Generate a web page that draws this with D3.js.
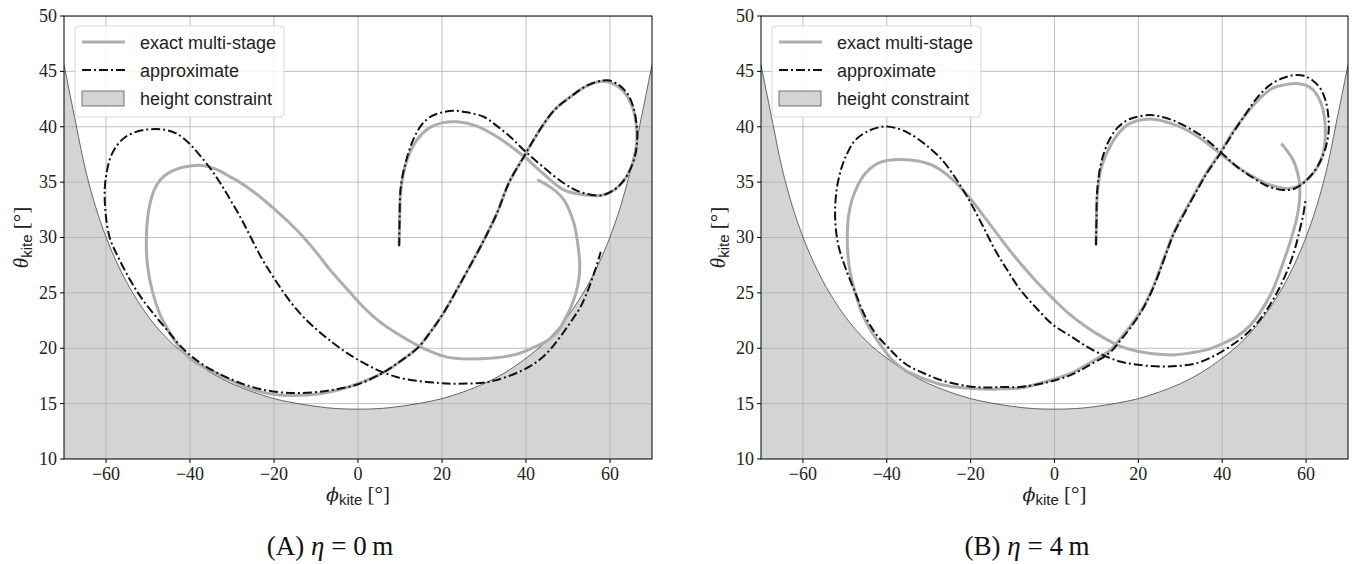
<!doctype html>
<html>
<head>
<meta charset="utf8">
<script src="https://d3js.org/d3.v7.min.js"></script>
<style>
  body { margin: 0; background: #fff; }
  .tick-label { font-family: "Liberation Serif", serif; font-size: 18px; fill: #222; }
  .legend-text { font-family: "Liberation Sans", sans-serif; font-size: 18px; fill: #222; }
  .grid line { stroke: #b0b0b0; stroke-width: 0.8; }
</style>
</head>
<body>
<svg width="1354" height="564"></svg>
<script>
// axis ticks
var phiTicks = [-60, -40, -20, 0, 20, 40, 60];
var thetaTicks = [10, 15, 20, 25, 30, 35, 40, 45, 50];

// height constraint boundary
var boundaryPhi   = [-70, -67.5, -65, -62.5, -60, -57.5, -55, -52.5, -50, -45, -40, -35, -30, -25, -20, -15, -10, -5, 0,
                     5, 10, 15, 20, 25, 30, 35, 40, 45, 50, 52.5, 55, 57.5, 60, 62.5, 65, 67.5, 70];
var boundaryTheta = [45.6, 40.9, 36.3, 32.8, 30.05, 27.8, 25.9, 24.3, 22.9, 20.7, 19.1, 17.8, 16.8, 16.05, 15.45, 15.05, 14.75, 14.55, 14.5,
                     14.55, 14.75, 15.05, 15.45, 16.05, 16.8, 17.8, 19.1, 20.7, 22.9, 24.3, 25.9, 27.8, 30.05, 32.8, 36.3, 40.9, 45.6];

// (A) eta = 0 m
var exactA_phi = [9.8, 9.9, 10.2, 11.5, 14, 17, 20, 23.6, 28, 33.1, 36.5, 39.9, 44, 49, 53, 57.8, 61, 63.4, 65, 66, 66.4, 66.2, 65.5, 64.2, 62, 58.6,
  54.5, 50.6, 47, 44.3, 41.8, 39.5, 36, 33.1, 30.3, 27.5, 24, 20.4, 17.3, 14.4, 10, 6, 0, -6.7, -14, -20.3, -26, -31.4, -36, -39.4, -42.5,
  -45, -47.3, -49, -50.1, -50.4, -50.1, -49.3, -48, -46, -43, -40, -37, -34, -30.5, -26.6, -20, -13.9, -10, -6.7, -2.5, 1.2, 5, 9.2, 14.8, 21.2,
  29.1, 37.1, 42, 45.1, 47.5, 49.1, 51, 52.3, 52.8, 52.6, 51.4, 49, 46, 42.7];
var exactA_theta = [29.3, 31.5, 34.3, 36.8, 38.8, 39.9, 40.35, 40.45, 40.1, 39.1, 38.2, 37.2, 35.8, 34.3, 33.9, 33.8, 34.3, 35.2, 36.3, 37.6, 39, 40.3, 41.6, 42.7, 43.6, 44.1,
  43.7, 42.7, 41.6, 40.3, 38.8, 37.3, 35, 32.2, 30, 28, 25.6, 23.2, 21.5, 20.1, 18.8, 17.8, 16.8, 16.05, 15.75, 15.85, 16.4, 17.3, 18.2, 18.9, 20.1,
  21.5, 23.2, 25.2, 27.4, 29.8, 31.7, 33.4, 34.7, 35.6, 36.2, 36.45, 36.5, 36.2, 35.5, 34.6, 32.6, 30.4, 28.7, 27.1, 25.3, 23.75, 22.45, 21.35, 20.14, 19.2,
  19.05, 19.4, 20.1, 20.7, 21.5, 22.5, 24, 25.6, 27.2, 28.6, 31.3, 33.4, 34.5, 35.2];

var approxA_phi = [9.8, 9.9, 10.2, 11.5, 13.1, 15, 17.2, 20, 22.7, 26, 29.9, 33, 36.5, 39.9, 44, 49, 53, 57.8, 61, 63.4, 65, 66.1, 66.5, 66.3, 65.6, 64.3, 62, 59.4,
  55, 50.6, 47, 44.3, 41.8, 39.5, 36, 33.1, 30.3, 27.5, 24, 20.4, 17.3, 14.4, 10, 6, 0, -6.7, -14, -20.3, -26, -31.4, -36, -39.4, -42.5,
  -44.9, -48, -51.3, -54, -56.8, -59.2, -60.3, -60, -58.5, -55.3, -49.7, -43.3, -36.1, -29, -21.8, -13.9, -6, 1.2, 9.2, 19.6, 23.6, 31.5,
  39.4, 44, 47.5, 50.5, 53, 55.5, 57.8];
var approxA_theta = [29.2, 31.5, 34.6, 37, 38.8, 40.1, 40.9, 41.3, 41.45, 41.3, 40.9, 40.1, 39, 37.75, 36.4, 34.9, 34.1, 33.8, 34.3, 35.2, 36.3, 37.6, 39, 40.3, 41.7, 42.9, 43.8, 44.2,
  43.8, 42.7, 41.6, 40.3, 38.8, 37.3, 35, 32.2, 30, 28, 25.6, 23.2, 21.5, 20.1, 18.8, 17.8, 16.75, 16.2, 15.95, 16.1, 16.6, 17.4, 18.3, 19.2, 20.3,
  21.4, 22.8, 24.4, 26, 28, 30.1, 33.4, 35.5, 37.6, 39.1, 39.77, 39.4, 36.7, 32.5, 27.4, 23.2, 20.5, 18.7, 17.4, 16.85, 16.8, 17.0,
  18.05, 19.2, 20.7, 22.3, 23.75, 26, 28.7];

// (B) eta = 4 m
var exactB_phi = [9.9, 10.0, 10.3, 11.3, 13.2, 15.5, 18, 22.7, 26, 29.9, 35, 39.4, 43.5, 47.3, 51, 54.5, 57, 59.2, 61.5, 63.2, 64.3, 64.6, 64.4, 63.6, 62.4, 60.8,
  57.7, 55, 52.1, 48.8, 45.8, 42.5, 39.4, 36.5, 33.9, 31, 28.4, 26, 23.6, 21, 18, 15.5, 13.2, 8, 3.7, -2, -8.2, -12.6, -15.8, -21, -26.9, -31.5,
  -35.6, -38.6, -41.1, -43.8, -45.9, -47.5, -48.7, -49.3, -49.4, -49.1, -48.3, -46.8, -45.1, -43, -41.1, -36.8, -32.5, -28.5, -24.5, -20.5,
  -16, -11, -8.2, -4, 0, 3.5, 7.7, 11.5, 15.6, 19.5, 23.5, 28.3, 32, 36.2, 40, 43.4, 46.5, 48.9, 52, 54.5, 56.3, 57.7, 58.4, 58.5, 58, 56.9, 54.1];
var exactB_theta = [29.3, 31.5, 34.3, 36.5, 38.2, 39.5, 40.3, 40.7, 40.5, 40, 38.9, 37.6, 36.4, 35.5, 34.8, 34.45, 34.5, 34.9, 35.7, 36.7, 38, 39.4, 40.8, 42.1, 43, 43.6,
  43.9, 43.8, 43.5, 42.5, 41.2, 39.5, 37.6, 36, 34.3, 32.3, 30.4, 28, 25.6, 23.6, 21.95, 20.8, 19.8, 18.6, 17.7, 17, 16.4, 16.35, 16.3, 16.4, 16.7, 17.3,
  18.0, 18.9, 20.1, 21.6, 23.15, 25, 26.8, 28.6, 30.4, 32, 33.4, 34.8, 35.8, 36.5, 36.85, 37.05, 36.9, 36.4, 35.3, 33.7,
  31.5, 29.0, 27.7, 25.9, 24.35, 23.1, 21.9, 21.0, 20.2, 19.75, 19.5, 19.4, 19.55, 19.85, 20.4, 21.05, 22, 23.15, 25.2, 27.7, 29.7, 31.6, 33.2, 34.6, 35.8, 37, 38.5];

var approxB_phi = [9.9, 10.0, 10.2, 11.1, 12.8, 15, 18, 22.7, 26, 29.9, 35, 39.4, 43.5, 47.3, 51, 54.5, 57.2, 59.6, 62, 63.9, 65, 65.4, 65.3, 64.7, 63.5, 61.5, 59.5,
  57.3, 54.5, 51.5, 48.5, 45.5, 42.5, 39.4, 36.5, 33.9, 31, 28.4, 26, 23.6, 21, 18, 15.5, 13.2, 8, 3.7, -2, -8.2, -12.6, -16.5, -21, -26.9,
  -31.5, -35.6, -39.5, -42.7, -45.3, -47.5, -49.8, -51.5, -52.2, -52.3, -51.8, -50.7, -49.3, -47.5, -44.5, -41.1, -38, -34.7, -30.8, -26.8,
  -23.5, -20.4, -17.3, -14.2, -11, -8.2, -4.5, -0.3, 3.8, 7.7, 11.5, 15.6, 20, 25.1, 29.5, 33.9, 38, 41.8, 45.5, 48.9, 52.3, 55.3, 57.2, 58.5, 59.4, 59.9];
var approxB_theta = [29.3, 31.5, 34.3, 36.7, 38.6, 39.9, 40.7, 41.05, 40.85, 40.3, 39.2, 37.8, 36.4, 35.4, 34.6, 34.3, 34.4, 35, 36, 37.3, 38.6, 39.7, 41, 42.3, 43.4, 44.2, 44.6,
  44.67, 44.4, 43.8, 42.7, 41.1, 39.4, 37.5, 35.9, 34.2, 32.2, 30.3, 27.9, 25.5, 23.5, 21.8, 20.6, 19.6, 18.4, 17.55, 16.9, 16.5, 16.5, 16.45, 16.6, 17.1,
  17.8, 18.6, 20, 21.35, 23, 25, 27.2, 29.2, 31, 32.8, 34.7, 36.4, 37.7, 38.8, 39.6, 40, 39.9, 39.4, 38.4, 37,
  35.3, 33.4, 31.2, 28.9, 26.9, 25.3, 23.7, 22.1, 21.1, 20.15, 19.4, 18.8, 18.5, 18.35, 18.4, 18.65, 19.3, 20.15, 21.2, 22.55, 24.5, 26.8, 28.8, 30.7, 32.2, 33.5];

var legendLabels = ["exact multi-stage", "approximate", "height constraint"];

var svg = d3.select("svg");
svg.append("rect").attr("width", 1354).attr("height", 564).attr("fill", "#fff");

var margin = { top: 16, bottom: 459 };

function pairs(a, b) { return a.map(function(v, i) { return [v, b[i]]; }); }

function drawPanel(left, right, caption, capX, exactPhi, exactTheta, approxPhi, approxTheta, id) {
    var x = d3.scaleLinear().domain([-70, 70]).range([left, right]);
    var y = d3.scaleLinear().domain([10, 50]).range([margin.bottom, margin.top]);

    var g = svg.append("g");

    g.append("clipPath").attr("id", "clip" + id)
     .append("rect")
     .attr("x", left).attr("y", margin.top)
     .attr("width", right - left).attr("height", margin.bottom - margin.top);

    var plot = g.append("g").attr("clip-path", "url(#clip" + id + ")");

    var bnd = pairs(boundaryPhi, boundaryTheta);

    // shaded constraint area
    plot.append("path")
        .datum(bnd)
        .attr("fill", "#d3d4d6")
        .attr("d", d3.area()
            .curve(d3.curveMonotoneX)
            .x(function(d) { return x(d[0]); })
            .y0(y(10))
            .y1(function(d) { return y(d[1]); }));

    // grid
    var grid = plot.append("g").attr("class", "grid");
    grid.selectAll(".gx").data(phiTicks).enter().append("line")
        .attr("x1", function(d) { return x(d); }).attr("x2", function(d) { return x(d); })
        .attr("y1", margin.top).attr("y2", margin.bottom);
    grid.selectAll(".gy").data(thetaTicks).enter().append("line")
        .attr("x1", left).attr("x2", right)
        .attr("y1", function(d) { return y(d); }).attr("y2", function(d) { return y(d); });

    plot.append("path")
        .datum(bnd)
        .attr("fill", "none")
        .attr("stroke", "#444")
        .attr("stroke-width", 0.8)
        .attr("d", d3.line().curve(d3.curveMonotoneX)
            .x(function(d) { return x(d[0]); })
            .y(function(d) { return y(d[1]); }));

    var line = d3.line()
        .curve(d3.curveCatmullRom.alpha(0.5))
        .x(function(d) { return x(d[0]); })
        .y(function(d) { return y(d[1]); });

    plot.append("path")
        .datum(pairs(exactPhi, exactTheta))
        .attr("fill", "none")
        .attr("stroke", "#adadad")
        .attr("stroke-width", 3)
        .attr("stroke-linejoin", "round")
        .attr("d", line);

    plot.append("path")
        .datum(pairs(approxPhi, approxTheta))
        .attr("fill", "none")
        .attr("stroke", "#111")
        .attr("stroke-width", 2)
        .attr("stroke-dasharray", "9,3,2,3")
        .attr("d", line);

    // spines
    g.append("rect")
     .attr("x", left).attr("y", margin.top)
     .attr("width", right - left).attr("height", margin.bottom - margin.top)
     .attr("fill", "none").attr("stroke", "#000").attr("stroke-width", 1);

    // x ticks
    var xt = g.selectAll(".xt").data(phiTicks).enter().append("g");
    xt.append("line")
      .attr("x1", function(d) { return x(d); }).attr("x2", function(d) { return x(d); })
      .attr("y1", margin.bottom).attr("y2", margin.bottom + 4)
      .attr("stroke", "#000");
    xt.append("text")
      .attr("class", "tick-label")
      .attr("x", function(d) { return x(d); })
      .attr("y", 480)
      .attr("text-anchor", "middle")
      .text(function(d) { return d < 0 ? "\u2212" + Math.abs(d) : d; });

    // y ticks
    var yt = g.selectAll(".yt").data(thetaTicks).enter().append("g");
    yt.append("line")
      .attr("x1", left - 4).attr("x2", left)
      .attr("y1", function(d) { return y(d); }).attr("y2", function(d) { return y(d); })
      .attr("stroke", "#000");
    yt.append("text")
      .attr("class", "tick-label")
      .attr("x", left - 7)
      .attr("y", function(d) { return y(d); })
      .attr("dy", "0.33em")
      .attr("text-anchor", "end")
      .text(function(d) { return d; });

    // axis labels
    var xl = g.append("text")
      .attr("x", (left + right) / 2).attr("y", 501)
      .attr("text-anchor", "middle")
      .attr("font-family", "Liberation Serif, serif").attr("font-size", 21).attr("fill", "#222");
    xl.append("tspan").attr("font-style", "italic").attr("font-family", "DejaVu Serif, serif").attr("font-size", 19).text("\u03d5");
    xl.append("tspan").attr("font-family", "Liberation Sans, sans-serif").attr("font-size", 15).attr("dy", 4).text("kite");
    xl.append("tspan").attr("dy", -4).text(" [\u00b0]");

    var yl = g.append("text")
      .attr("transform", "translate(" + (left - 36) + "," + ((margin.top + margin.bottom) / 2) + ") rotate(-90)")
      .attr("text-anchor", "middle")
      .attr("font-family", "Liberation Serif, serif").attr("font-size", 21).attr("fill", "#222");
    yl.append("tspan").attr("font-style", "italic").text("\u03b8");
    yl.append("tspan").attr("font-family", "Liberation Sans, sans-serif").attr("font-size", 15).attr("dy", 4).text("kite");
    yl.append("tspan").attr("dy", -4).text(" [\u00b0]");

    // legend
    var lg = g.append("g").attr("transform", "translate(" + (left + 11) + ",26)");
    lg.append("rect")
      .attr("width", 209).attr("height", 91).attr("rx", 4)
      .attr("fill", "#fff").attr("fill-opacity", 0.85)
      .attr("stroke", "#d6d6d6");
    lg.append("line").attr("x1", 7).attr("x2", 50).attr("y1", 16).attr("y2", 16)
      .attr("stroke", "#adadad").attr("stroke-width", 3);
    lg.append("line").attr("x1", 7).attr("x2", 50).attr("y1", 44).attr("y2", 44)
      .attr("stroke", "#111").attr("stroke-width", 2).attr("stroke-dasharray", "9,3,2,3");
    lg.append("rect").attr("x", 7).attr("y", 65).attr("width", 42).attr("height", 15)
      .attr("fill", "#d3d4d6").attr("stroke", "#555").attr("stroke-width", 0.8);
    lg.selectAll(".lt").data(legendLabels).enter().append("text")
      .attr("class", "legend-text")
      .attr("x", 65)
      .attr("y", function(d, i) { return 23 + i * 28; })
      .text(function(d) { return d; });

    // caption
    var cap = svg.append("text")
      .attr("x", capX).attr("y", 555)
      .attr("text-anchor", "middle")
      .attr("font-family", "Liberation Serif, serif").attr("font-size", 27).attr("fill", "#111");
    cap.append("tspan").text(caption[0] + " ");
    cap.append("tspan").attr("font-style", "italic").text("\u03b7");
    cap.append("tspan").text(" = " + caption[1] + "\u2009m");
}

drawPanel(64, 652, ["(A)", "0"], 330, exactA_phi, exactA_theta, approxA_phi, approxA_theta, "a");
drawPanel(761, 1348, ["(B)", "4"], 1027, exactB_phi, exactB_theta, approxB_phi, approxB_theta, "b");
</script>
</body>
</html>
